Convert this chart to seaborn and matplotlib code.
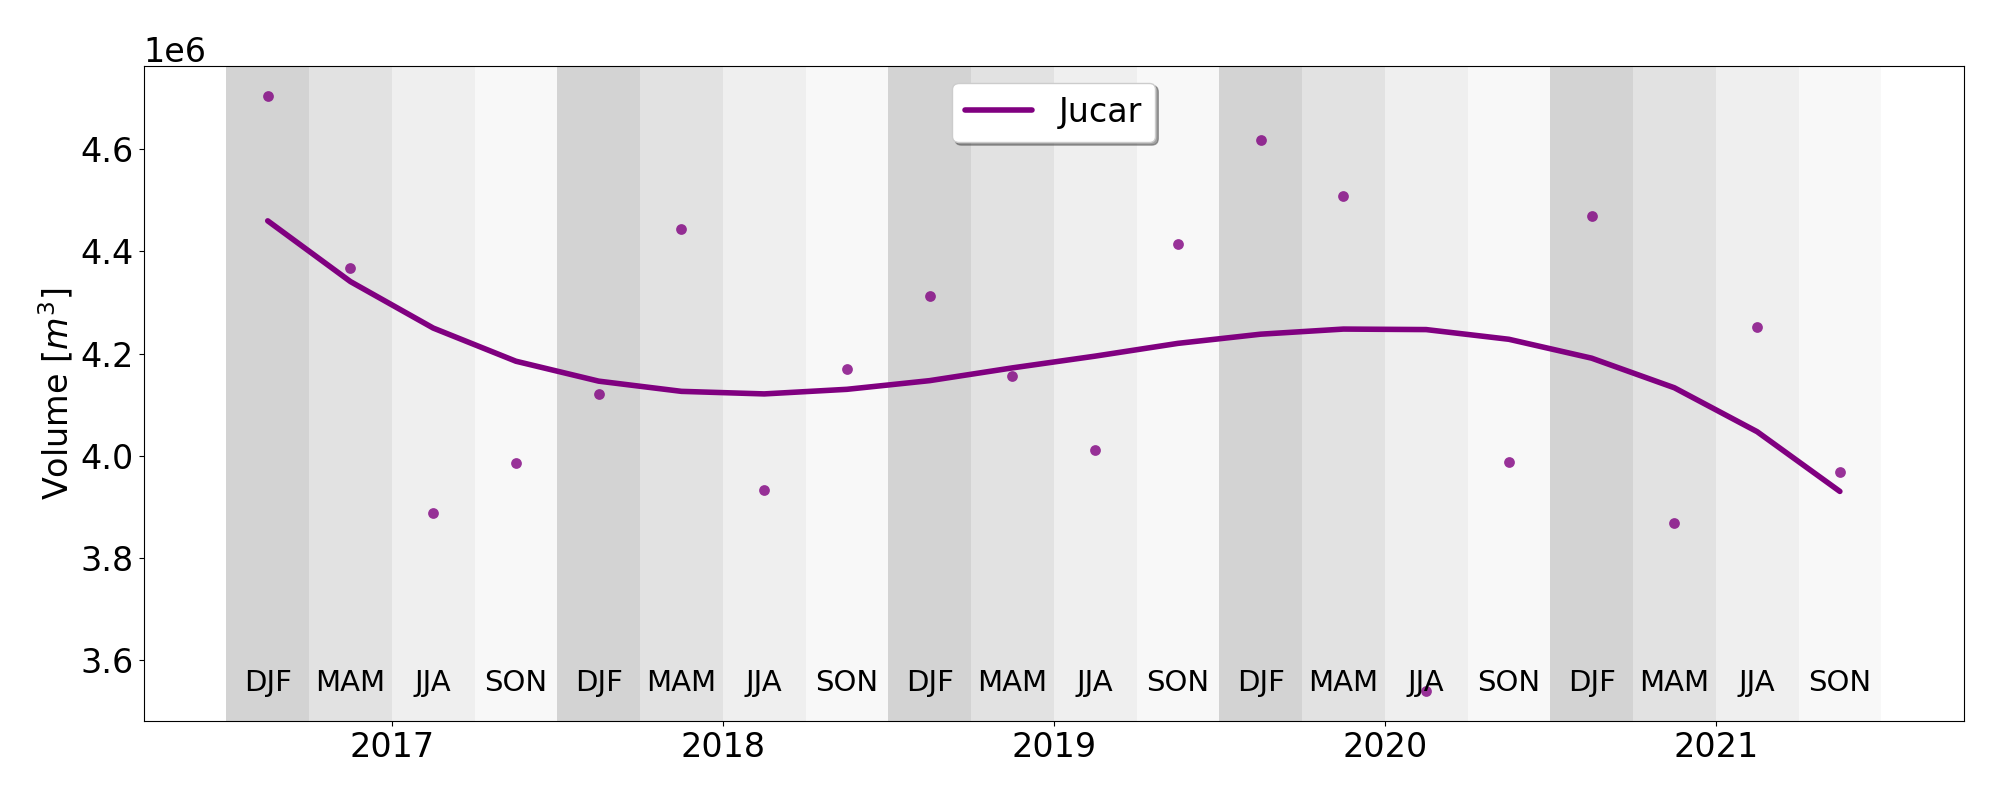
import numpy as np
import pandas as pd
import matplotlib
matplotlib.use('Agg')
import matplotlib.pyplot as plt
import seaborn as sns

# seasonal volume of the Jucar reservoir (units of 1e6 m3)
seasons = ['DJF', 'MAM', 'JJA', 'SON'] * 5
volume = [4.705, 4.368, 3.888, 3.986, 4.120, 4.445, 3.932, 4.169, 4.312, 4.156,
          4.012, 4.415, 4.619, 4.509, 3.539, 3.988, 4.470, 3.869, 4.253, 3.969]
# smoothed trend line through the seasons
trend = [4.460, 4.341, 4.250, 4.185, 4.146, 4.126, 4.121, 4.130, 4.147, 4.172,
         4.195, 4.220, 4.238, 4.248, 4.247, 4.228, 4.191, 4.133, 4.047, 3.930]
year_ticks = [2017, 2018, 2019, 2020, 2021]
season_colors = {'DJF': '#d3d3d3', 'MAM': '#e2e2e2', 'JJA': '#efefef', 'SON': '#f8f8f8'}

first_start = 2016.5   # first DJF band starts here (decimal year)
width = 0.25

band_start = first_start + width * np.arange(len(seasons))
df = pd.DataFrame({'t': band_start + width / 2,
                   'season': seasons,
                   'volume': np.array(volume) * 1e6,
                   'trend': np.array(trend) * 1e6})

sns.set_style('ticks', {'axes.edgecolor': 'black', 'xtick.color': 'black',
                        'ytick.color': 'black', 'text.color': 'black',
                        'axes.labelcolor': 'black'})
plt.rcParams['font.family'] = ['DejaVu Sans']

fig, ax = plt.subplots(figsize=(20, 8), dpi=100)
fig.subplots_adjust(left=0.0718, right=0.982, top=0.9175, bottom=0.099)

for x0, s in zip(band_start, seasons):
    ax.axvspan(x0, x0 + width, color=season_colors[s], lw=0, zorder=0)

sns.scatterplot(data=df, x='t', y='volume', color='purple', alpha=0.8, s=60,
                linewidth=0, ax=ax, zorder=3)
sns.lineplot(data=df, x='t', y='trend', color='purple', linewidth=4,
             label='Jucar', ax=ax, zorder=2)

label_y = df['volume'].min()
for x, s in zip(df['t'], df['season']):
    ax.text(x, label_y, s, ha='center', va='baseline', fontsize=21, zorder=4)

ax.set_xticks(year_ticks)
ax.set_xticklabels([str(y) for y in year_ticks])
ax.set_xlabel('')
ax.set_ylabel('Volume [$m^3$]', fontsize=24)
ax.tick_params(labelsize=24)
ax.yaxis.get_offset_text().set_fontsize(24)
ax.legend(loc='upper center', fontsize=24, shadow=True)

plt.savefig('out.png')
